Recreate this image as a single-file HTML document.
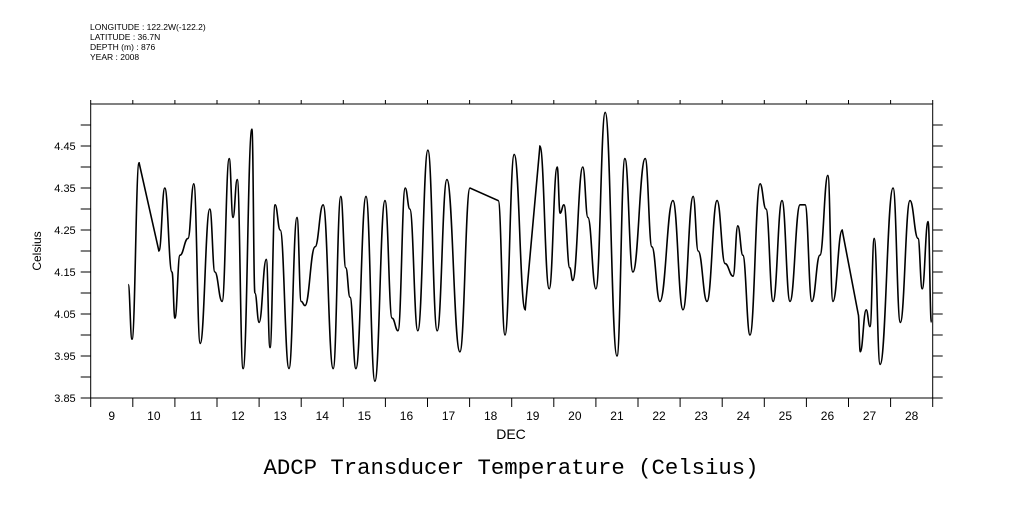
<!DOCTYPE html>
<html><head><meta charset="utf-8"><style>
body{margin:0;background:#fff;width:1009px;height:504px;overflow:hidden}
svg text{font-family:"Liberation Sans",sans-serif;fill:#000}
</style></head><body>
<svg id="chart" width="1009" height="504" viewBox="0 0 1009 504" xmlns="http://www.w3.org/2000/svg">
<g font-size="8.5">
<text x="90" y="30">LONGITUDE : 122.2W(-122.2)</text>
<text x="90" y="40">LATITUDE : 36.7N</text>
<text x="90" y="50">DEPTH (m) : 876</text>
<text x="90" y="60">YEAR : 2008</text>
</g>
<rect x="90.7" y="104" width="842" height="294" fill="none" stroke="#000" stroke-width="1"/>
<g id="axes"></g>
<g id="series"></g>
<text x="511" y="439" font-size="14" text-anchor="middle">DEC</text>
<text transform="translate(41,251) rotate(-90)" font-size="12" text-anchor="middle">Celsius</text>
<text x="511" y="474" font-size="22.3" text-anchor="middle" style="font-family:'Liberation Mono',monospace">ADCP Transducer Temperature (Celsius)</text>
</svg>
<script>
const dayLabels=[9,10,11,12,13,14,15,16,17,18,19,20,21,22,23,24,25,26,27,28];
const yTickLabels=["3.85","3.95","4.05","4.15","4.25","4.35","4.45"];
const times=[9.89,9.98,10.15,10.62,10.76,10.93,11.00,11.12,11.31,11.45,11.60,11.83,11.95,12.12,12.29,12.38,12.48,12.62,12.83,12.90,13.00,13.17,13.26,13.38,13.50,13.71,13.90,14.00,14.09,14.33,14.52,14.76,14.94,15.06,15.16,15.30,15.54,15.75,15.99,16.16,16.30,16.47,16.58,16.77,17.01,17.23,17.46,17.77,18.01,18.68,18.84,19.06,19.32,19.67,19.89,20.08,20.15,20.24,20.38,20.45,20.69,20.81,21.00,21.22,21.50,21.69,21.88,22.17,22.33,22.52,22.83,23.07,23.31,23.43,23.64,23.88,24.07,24.26,24.37,24.49,24.66,24.90,25.04,25.21,25.42,25.61,25.85,25.97,26.13,26.32,26.51,26.63,26.85,27.23,27.28,27.42,27.51,27.61,27.75,28.06,28.23,28.46,28.65,28.75,28.89,28.97];
const temps=[4.12,3.99,4.41,4.20,4.35,4.15,4.04,4.19,4.23,4.36,3.98,4.30,4.15,4.08,4.42,4.28,4.37,3.92,4.49,4.10,4.03,4.18,3.97,4.31,4.25,3.92,4.28,4.08,4.07,4.21,4.31,3.92,4.33,4.16,4.09,3.92,4.33,3.89,4.32,4.04,4.01,4.35,4.30,4.01,4.44,4.01,4.37,3.96,4.35,4.32,4.00,4.43,4.06,4.45,4.11,4.40,4.29,4.31,4.16,4.13,4.40,4.28,4.11,4.53,3.95,4.42,4.15,4.42,4.21,4.08,4.32,4.06,4.33,4.20,4.08,4.32,4.17,4.14,4.26,4.19,4.00,4.36,4.30,4.08,4.32,4.08,4.31,4.31,4.08,4.19,4.38,4.08,4.25,4.05,3.96,4.06,4.02,4.23,3.93,4.35,4.03,4.32,4.23,4.11,4.27,4.03];
const x0=90.7,x1=932.7,y0=398,y1=104,dMin=9,dMax=29,vMin=3.85,vMax=4.55;
function xs(d){return x0+(d-dMin)/(dMax-dMin)*(x1-x0);}
function ys(v){return y0-(v-vMin)/(vMax-vMin)*(y0-y1);}
const NS="http://www.w3.org/2000/svg";
const axes=document.getElementById('axes');
function line(a,b,c,d,name){const l=document.createElementNS(NS,'line');l.setAttribute('x1',a);l.setAttribute('y1',b);l.setAttribute('x2',c);l.setAttribute('y2',d);l.setAttribute('stroke','#000');


axes.appendChild(l);}
for(let d=dMin;d<=dMax;d++){const x=xs(d);line(x,y0,x,y0+9,'x-tick');line(x,y1,x,y1-4,'x-tick-top');}
dayLabels.forEach(d=>{const t=document.createElementNS(NS,'text');t.setAttribute('x',xs(d+0.5));t.setAttribute('y',y0+22);t.setAttribute('font-size','12');t.setAttribute('text-anchor','middle');t.textContent=d;


axes.appendChild(t);});
for(let i=1;i<14;i++){const v=vMin+i*0.05,y=ys(v);line(x0-10,y,x0,y,'y-tick');line(x1,y,x1+10,y,'y-tick-right');}
line(x0-10,y0,x0,y0,'y-tick');line(x1,y0,x1+10,y0,'y-tick-right');
yTickLabels.forEach(s=>{const t=document.createElementNS(NS,'text');t.setAttribute('x',x0-15);t.setAttribute('y',ys(parseFloat(s))+4);t.setAttribute('font-size','11');t.setAttribute('text-anchor','end');t.textContent=s;


axes.appendChild(t);});
let dstr='M'+xs(times[0]).toFixed(1)+','+ys(temps[0]).toFixed(1);
for(let i=1;i<times.length;i++){
  const xa=xs(times[i-1]),ya=ys(temps[i-1]),xb=xs(times[i]),yb=ys(temps[i]);
  if(times[i]-times[i-1]>0.35){dstr+=' L'+xb.toFixed(1)+','+yb.toFixed(1);}
  else{const m=(xb-xa)*0.45;dstr+=' C'+(xa+m).toFixed(1)+','+ya.toFixed(1)+' '+(xb-m).toFixed(1)+','+yb.toFixed(1)+' '+xb.toFixed(1)+','+yb.toFixed(1);}
}
const p=document.createElementNS(NS,'path');
p.setAttribute('d',dstr);
p.setAttribute('fill','none');p.setAttribute('stroke','#000');p.setAttribute('stroke-width','1.6');


document.getElementById('series').appendChild(p);
</script>
</body></html>
